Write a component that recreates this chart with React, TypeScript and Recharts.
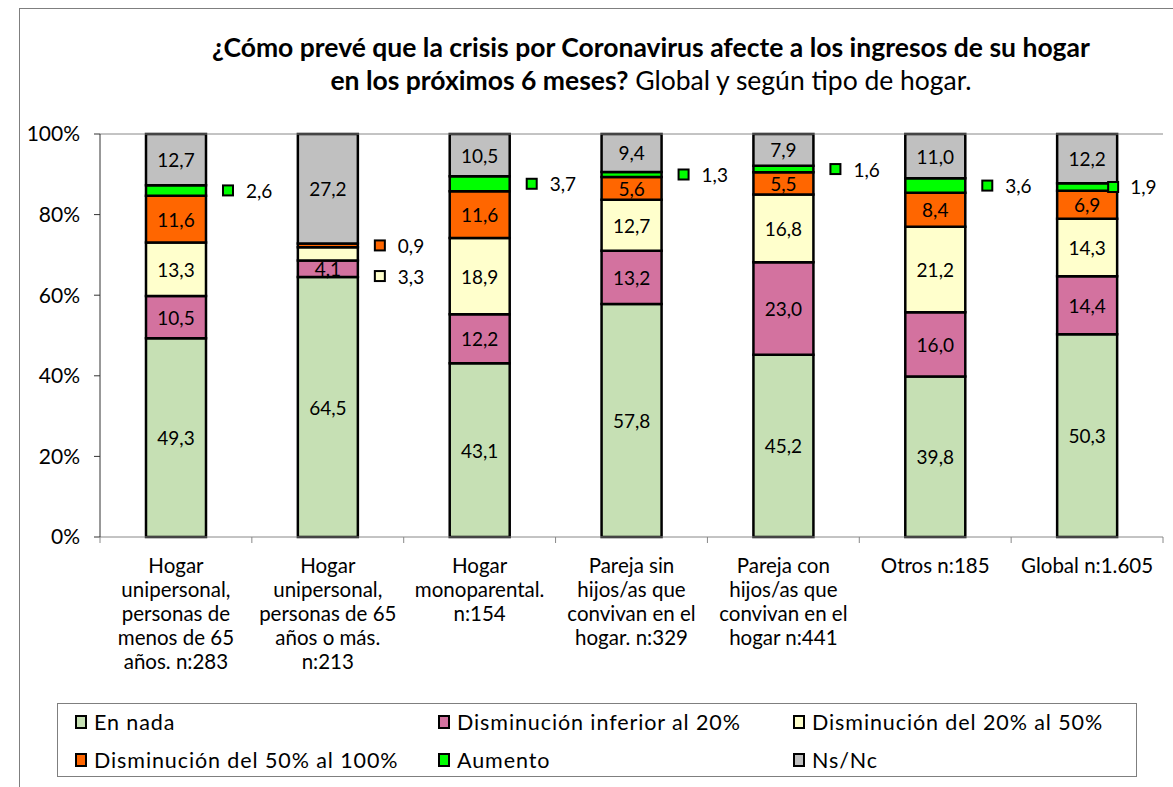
import { BarChart, Bar, XAxis, YAxis, LabelList, ReferenceLine } from "recharts";

// categories (x axis) with the line breaks used in the picture
const categories = [
  "Hogar\nunipersonal,\npersonas de\nmenos de 65\naños. n:283",
  "Hogar\nunipersonal,\npersonas de 65\naños o más.\nn:213",
  "Hogar\nmonoparental.\nn:154",
  "Pareja sin\nhijos/as que\nconvivan en el\nhogar. n:329",
  "Pareja con\nhijos/as que\nconvivan en el\nhogar n:441",
  "Otros n:185",
  "Global n:1.605",
];

// series values (%)
const enNada = [49.3, 64.5, 43.1, 57.8, 45.2, 39.8, 50.3];
const dismInf20 = [10.5, 4.1, 12.2, 13.2, 23.0, 16.0, 14.4];
const dism20a50 = [13.3, 3.3, 18.9, 12.7, 16.8, 21.2, 14.3];
const dism50a100 = [11.6, 0.9, 11.6, 5.6, 5.5, 8.4, 6.9];
const aumento = [2.6, 0, 3.7, 1.3, 1.6, 3.6, 1.9];
const nsnc = [12.7, 27.2, 10.5, 9.4, 7.9, 11.0, 12.2];

const yTicks = [0, 20, 40, 60, 80, 100];

const series = [
  { key: "enNada", name: "En nada", color: "#c6e0b4", values: enNada },
  { key: "dismInf20", name: "Disminución inferior al 20%", color: "#d3729f", values: dismInf20 },
  { key: "dism20a50", name: "Disminución del 20% al 50%", color: "#ffffcc", values: dism20a50 },
  { key: "dism50a100", name: "Disminución del 50% al 100%", color: "#ff6600", values: dism50a100 },
  { key: "aumento", name: "Aumento", color: "#00ff00", values: aumento },
  { key: "nsnc", name: "Ns/Nc", color: "#c0c0c0", values: nsnc },
];

const FONT = "Lato, Carlito, 'Open Sans', sans-serif";
const W = 1173;
const H = 787;
const PLOT_LEFT = 100;
const PLOT_RIGHT = 1163;
const PLOT_BOTTOM = 537;
const BAND = (PLOT_RIGHT - PLOT_LEFT) / categories.length;
const OUTSIDE_MIN = 4; // smaller values get their label outside the bar
const LABEL_GAP = 7.6; // min distance between outside labels, in %

const fmt = (v: number) => v.toFixed(1).replace(".", ",");

const rows = categories.map((name, i) => {
  const row: any = { name };
  series.forEach((s) => (row[s.key] = s.values[i]));
  return row;
});

// positions (in %) of the labels that sit beside the bars
const outside: Record<string, { pos: number; base: number }> = {};
categories.forEach((_, i) => {
  let cum = 0;
  const list: { k: string; c: number; base: number }[] = [];
  series.forEach((s, si) => {
    const v = s.values[i];
    if (v > 0 && v < OUTSIDE_MIN) list.push({ k: `${i}-${si}`, c: cum + v / 2, base: cum });
    cum += v;
  });
  list.sort((a, b) => b.c - a.c);
  for (let j = 1; j < list.length; j++) {
    if (list[j - 1].c - list[j].c < LABEL_GAP) list[j].c = list[j - 1].c - LABEL_GAP;
  }
  list.forEach((l) => (outside[l.k] = { pos: l.c, base: l.base }));
});

const makeLabel = (si: number) => (props: any) => {
  const { x, y, width, height, value } = props;
  const v = Number(value);
  if (!v) return null;
  if (v >= OUTSIDE_MIN) {
    return (
      <text x={x + width / 2} y={y + height / 2} textAnchor="middle" dominantBaseline="central"
        fontSize={19} fontFamily={FONT} fill="#000">
        {fmt(v)}
      </text>
    );
  }
  // zero-height bars are skipped by LabelList, so find the category from the bar position
  const index = Math.floor((x + width / 2 - PLOT_LEFT) / BAND);
  const info = outside[`${index}-${si}`];
  if (!info) return null;
  const pxPerPct = height / v;
  const yPix = y + height - (info.pos - info.base) * pxPerPct;
  const right = x + width;
  // the last bar has no room on its right, so its marker sits on the bar edge
  const last = index === categories.length - 1;
  const mx = last ? right - 9 : right + 17;
  const tx = last ? right + 13 : right + 40;
  return (
    <g>
      <rect x={mx} y={yPix - 5} width={10} height={10} fill={series[si].color} stroke="#000" strokeWidth={2} />
      <text x={tx} y={yPix} dominantBaseline="central" fontSize={19} fontFamily={FONT} fill="#000">
        {fmt(v)}
      </text>
    </g>
  );
};

const CategoryTick = (props: any) => {
  const { x, y, payload } = props;
  const index = Number(props.index);
  const lines = String(payload.value).split("\n");
  return (
    <g>
      <line x1={x - BAND / 2} x2={x - BAND / 2} y1={y} y2={y + 6} stroke="#888" />
      {index === categories.length - 1 && (
        <line x1={x + BAND / 2} x2={x + BAND / 2} y1={y} y2={y + 6} stroke="#888" />
      )}
      {lines.map((l, j) => (
        <text key={j} x={x} y={y + 36 + j * 24} textAnchor="middle" fontSize={20.5} fontFamily={FONT} fill="#000">
          {l}
        </text>
      ))}
    </g>
  );
};

export default function App() {
  return (
    <div style={{ position: "absolute", left: 0, top: 0, width: W, height: H, overflow: "hidden", background: "#fff", fontFamily: FONT }}>
      {/* outer chart frame */}
      <div style={{ position: "absolute", left: 19, top: 8, width: 1200, height: 900, border: "1.5px solid #7f7f7f" }} />

      {/* title */}
      <div style={{ position: "absolute", left: 0, top: 31, width: 1302, textAlign: "center", fontSize: 26.5, lineHeight: "33px", color: "#000" }}>
        <b>¿Cómo prevé que la crisis por Coronavirus afecte a los ingresos de su hogar</b>
        <br />
        <b>en los próximos 6 meses?</b> Global y según tipo de hogar.
      </div>

      <div style={{ position: "absolute", left: 0, top: 0 }}>
        <BarChart width={W} height={H} data={rows} margin={{ top: 134, right: W - PLOT_RIGHT, left: 0, bottom: H - PLOT_BOTTOM - 150 }}
          barSize={60}>
          <XAxis dataKey="name" height={150} interval={0} tickLine={false} tickSize={0} tickMargin={0}
            axisLine={{ stroke: "#888" }} tick={<CategoryTick />} />
          <YAxis width={PLOT_LEFT} domain={[0, 100]} ticks={yTicks} tickFormatter={(v) => `${v}%`}
            axisLine={{ stroke: "#333" }} tickLine={{ stroke: "#333" }} tickSize={6} tickMargin={14}
            tick={{ fontSize: 21, fontFamily: FONT, fill: "#000" }} />
          <YAxis yAxisId="r" orientation="right" width={0} domain={[0, 100]} tick={false} tickLine={false}
            axisLine={{ stroke: "#888" }} />
          <ReferenceLine y={100} stroke="#888" />
          {series.map((s, si) => (
            <Bar key={s.key} dataKey={s.key} name={s.name} stackId="a" fill={s.color} stroke="#000"
              strokeWidth={2.5} isAnimationActive={false}>
              <LabelList dataKey={s.key} content={makeLabel(si)} />
            </Bar>
          ))}
        </BarChart>
      </div>

      {/* legend */}
      <div style={{ position: "absolute", left: 57, top: 703, width: 1080, height: 74, border: "1.5px solid #7f7f7f", boxSizing: "border-box" }}>
        {series.map((s, i) => {
          const col = i % 3;
          const row = Math.floor(i / 3);
          const left = [17, 380, 735][col];
          return (
            <div key={s.key} style={{ position: "absolute", left, top: 5 + row * 38, display: "flex", alignItems: "center", height: 26, fontSize: 21.5, letterSpacing: 0.9, color: "#000", whiteSpace: "nowrap" }}>
              <span style={{ display: "inline-block", width: 8, height: 10, background: s.color, border: "2px solid #000", marginRight: 7 }} />
              {s.name}
            </div>
          );
        })}
      </div>
    </div>
  );
}
